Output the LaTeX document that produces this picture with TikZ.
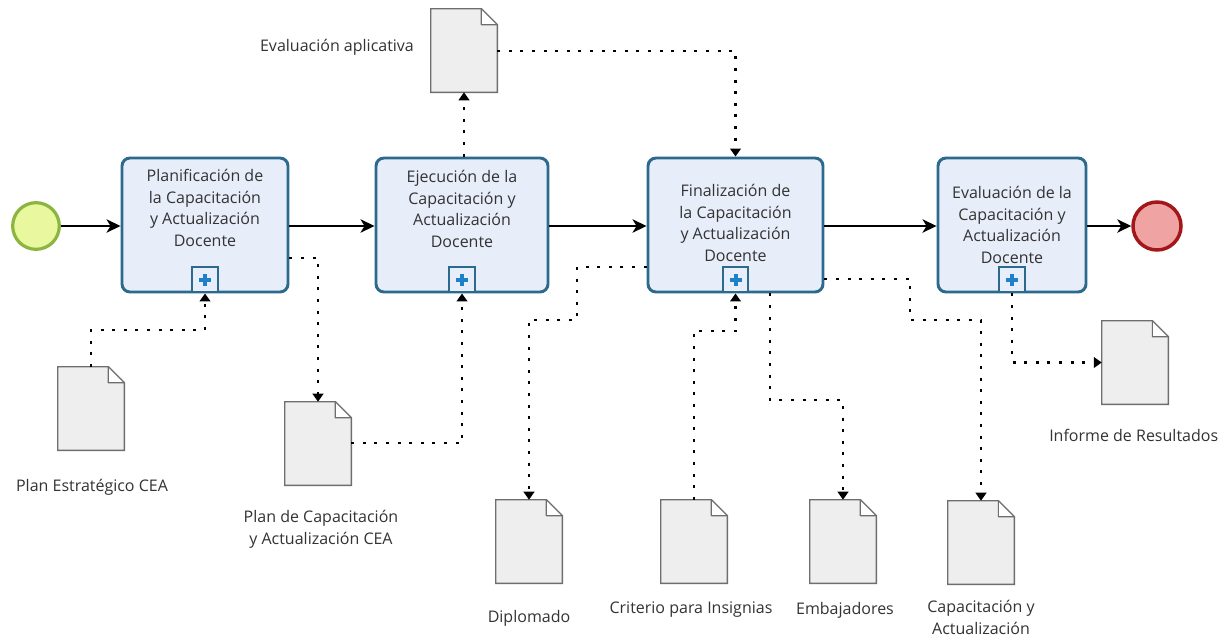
\documentclass[tikz,border=0pt]{standalone}
\usepackage{fontspec}
\setmainfont{Open Sans}
\usetikzlibrary{arrows.meta,calc}
\definecolor{taskfill}{HTML}{E8EDFA}
\definecolor{taskline}{HTML}{2B6A8C}
\definecolor{plusblue}{HTML}{1E80C6}
\definecolor{docfill}{HTML}{EEEEEE}
\definecolor{docline}{HTML}{6E6E6E}
\definecolor{txt}{HTML}{333333}
\definecolor{startfill}{HTML}{E9F79E}
\definecolor{startline}{HTML}{8CB540}
\definecolor{endfill}{HTML}{F0A3A3}
\definecolor{endline}{HTML}{A3161A}
\newcommand{\docdraw}[1]{%
 \draw[docline, fill=docfill, line width=1.1pt] (#1.north west) -- ([xshift=-12pt]#1.north east) -- ([yshift=-12pt]#1.north east) -- (#1.south east) -- (#1.south west) -- cycle;
 \draw[docline, fill=white, line width=0.8pt, line join=round] ([xshift=-12pt]#1.north east) -- ([xshift=-12pt,yshift=-12pt]#1.north east) -- ([yshift=-12pt]#1.north east) -- cycle;}
\newcommand{\plusdraw}[1]{%
 \draw[plusblue, line width=3pt] ([xshift=-4.5pt]#1.center) -- ([xshift=4.5pt]#1.center);
 \draw[plusblue, line width=3pt] ([yshift=-4.5pt]#1.center) -- ([yshift=4.5pt]#1.center);}
\begin{document}
\begin{tikzpicture}[x=0.75pt,y=-0.75pt,
  task/.style={draw=taskline, fill=taskfill, line width=2.2pt, rounded corners=6pt, inner sep=0pt, minimum height=100.5pt},
  tasktxt/.style={font=\fontsize{12}{16.2}\selectfont, text=txt, align=center, inner sep=0pt},
  marker/.style={draw=taskline, fill=taskfill, line width=1.6pt, minimum size=19pt, inner sep=0pt, anchor=south},
  docnode/.style={minimum width=49.5pt, minimum height=62.25pt, inner sep=0pt},
  doclbl/.style={font=\fontsize{12}{16.5}\selectfont, text=txt, align=center, inner sep=0pt},
  seq/.style={line width=1.4pt, -{Stealth[length=10.5pt,width=10pt,inset=3pt]}},
  assoc/.style={line width=1.6pt, dash pattern=on 2.2pt off 6.5pt, -{Triangle[length=6pt,width=8pt]}}
]
\useasboundingbox (0,0) rectangle (1226,639);
\fill[white] (0,0) rectangle (1226,639);

% events
\node[circle, draw=startline, fill=startfill, line width=2.4pt, minimum size=35pt, inner sep=0pt] (start) at (36,226) {};
\node[circle, draw=endline, fill=endfill, line width=2.6pt, minimum size=36pt, inner sep=0pt] (end) at (1157,226) {};

% tasks
\node[task, minimum width=124.5pt] (t1) at (205,225) {};
\node[task, minimum width=129pt] (t2) at (462,225) {};
\node[task, minimum width=131.25pt] (t3) at (735.5,225) {};
\node[task, minimum width=111pt] (t4) at (1012,225) {};

\node[tasktxt] (t1txt) at (205,208) {Planificación de\\la Capacitación\\y Actualización\\Docente};
\node[tasktxt] (t2txt) at (462,209) {Ejecución de la\\Capacitación y\\Actualización\\Docente};
\node[tasktxt] (t3txt) at (735.5,223) {Finalización de\\la Capacitación\\y Actualización\\Docente};
\node[tasktxt] (t4txt) at (1012,225) {Evaluación de la\\Capacitación y\\Actualización\\Docente};

\node[marker] (p1) at (t1.south) {};
\node[marker] (p2) at (t2.south) {};
\node[marker] (p3) at (t3.south) {};
\node[marker] (p4) at (t4.south) {};
\plusdraw{p1}\plusdraw{p2}\plusdraw{p3}\plusdraw{p4}

% documents
\node[docnode] (d1) at (91,408.5) {};
\node[docnode] (ea) at (464,50.5) {};
\node[docnode] (d2) at (318,443.5) {};
\node[docnode] (dip) at (529,541.5) {};
\node[docnode] (cri) at (694,541.5) {};
\node[docnode] (emb) at (843,541.5) {};
\node[docnode] (cap) at (981,542.5) {};
\node[docnode] (inf) at (1135,362.5) {};
\docdraw{d1}\docdraw{ea}\docdraw{d2}\docdraw{dip}\docdraw{cri}\docdraw{emb}\docdraw{cap}\docdraw{inf}

% document labels
\node[doclbl] (d1lbl) at (92,487) {Plan Estratégico CEA};
\node[doclbl] (ealbl) at (337,47) {Evaluación aplicativa};
\node[doclbl] (d2lbl) at (321,529) {Plan de Capacitación\\y Actualización CEA};
\node[doclbl] (diplbl) at (529,618) {Diplomado};
\node[doclbl] (crilbl) at (691,610) {Criterio para Insignias};
\node[doclbl] (emblbl) at (845,610) {Embajadores};
\node[doclbl] (caplbl) at (981,617) {Capacitación y\\Actualización};
\node[doclbl, anchor=west] (inflbl) at (1049,435) {Informe de Resultados};

% sequence flows
\draw[seq] (start) -- (start -| t1.west);
\draw[seq] (t1.east |- start) -- (t2.west |- start);
\draw[seq] (t2.east |- start) -- (t3.west |- start);
\draw[seq] (t3.east |- start) -- (t4.west |- start);
\draw[seq] (t4.east |- end) -- (end);

% associations
\draw[assoc] (d1.north) -- (d1.north |- 0,330) -| (p1.south);
\draw[assoc] (t1.east |- 0,258) -| (d2.north);
\draw[assoc] (d2.east |- 0,443) -| (p2.south);
\draw[assoc] (t2.north -| ea.south) -- (ea.south);
\draw[assoc] (ea.east |- 0,51) -| (t3.north);
\draw[assoc] (t3.west |- 0,267) -| (577,320) -| (dip.north);
\draw[assoc] (cri.north) -- (cri.north |- 0,331) -| (p3.south);
\draw[assoc] (t3.south -| 770,0) -- (770,400) -| (emb.north);
\draw[assoc] (t3.east |- 0,279) -| (910,320) -| (cap.north);
\draw[assoc] (p4.south) |- (inf.west);
\end{tikzpicture}
\end{document}
